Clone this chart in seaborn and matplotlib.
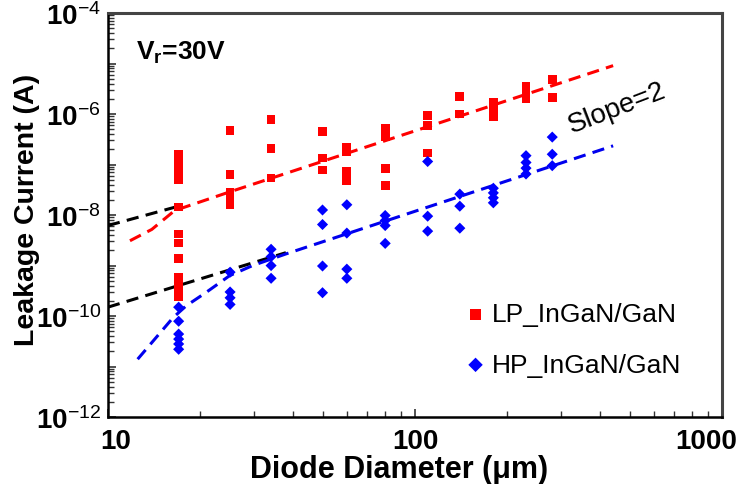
import numpy as np
import pandas as pd
import matplotlib
matplotlib.use('Agg')
import matplotlib.pyplot as plt
import matplotlib.transforms as mtransforms
import seaborn as sns
from matplotlib.ticker import LogLocator, FixedLocator, FuncFormatter, NullFormatter

sns.set_style('ticks')
plt.rcParams.update({
    'font.family': ['Liberation Sans', 'DejaVu Sans'],
    'mathtext.fontset': 'custom',
    'mathtext.rm': 'Liberation Sans',
    'mathtext.bf': 'Liberation Sans:bold',
    'mathtext.it': 'Liberation Sans:italic',
    'text.color': 'black',
    'axes.labelcolor': 'black',
    'xtick.labelcolor': 'black',
    'ytick.labelcolor': 'black',
})

# LP_InGaN/GaN (red squares): diameter (um) -> leakage current (A)
lp_diam = [17] * 13 + [25] * 5 + [34] * 3 + [50] * 3 + [60] * 4 + [80] * 4 + [110] * 3 + [140] * 2 + [180] * 3 + [230] * 3 + [280] * 2
lp_curr = [1.6e-7, 1.2e-7, 8.9e-8, 6.8e-8, 5.1e-8, 1.45e-8, 4.2e-9, 2.8e-9, 1.4e-9, 5.9e-10, 4.3e-10, 3.2e-10, 2.4e-10,
           4.7e-7, 6.3e-8, 2.75e-8, 2.1e-8, 1.6e-8,
           7.9e-7, 2.1e-7, 5.4e-8,
           4.5e-7, 1.35e-7, 7.8e-8,
           2.2e-7, 1.8e-7, 7.4e-8, 4.8e-8,
           5.2e-7, 3.5e-7, 8.5e-8, 3.8e-8,
           9.5e-7, 5.9e-7, 1.7e-7,
           2.2e-6, 1.0e-6,
           1.7e-6, 1.26e-6, 9.1e-7,
           3.5e-6, 2.6e-6, 2.0e-6,
           4.9e-6, 2.1e-6]

# HP_InGaN/GaN (blue diamonds)
hp_diam = [17] * 6 + [25] * 4 + [34] * 4 + [50] * 4 + [60] * 4 + [80] * 4 + [110] * 3 + [140] * 3 + [180] * 4 + [230] * 4 + [280] * 3
hp_curr = [1.5e-10, 7.9e-11, 4.4e-11, 3.5e-11, 2.8e-11, 2.2e-11,
           7.4e-10, 3.0e-10, 2.3e-10, 1.7e-10,
           2.1e-9, 1.5e-9, 1.0e-9, 5.6e-10,
           1.26e-8, 6.5e-9, 9.8e-10, 2.9e-10,
           1.6e-8, 4.4e-9, 8.5e-10, 5.6e-10,
           9.8e-9, 7.8e-9, 6.2e-9, 2.75e-9,
           1.15e-7, 9.5e-9, 4.8e-9,
           2.6e-8, 1.5e-8, 5.5e-9,
           3.4e-8, 2.75e-8, 2.2e-8, 1.75e-8,
           1.5e-7, 1.1e-7, 8.5e-8, 6.5e-8,
           3.5e-7, 1.6e-7, 9.5e-8]

# fitted curves
lp_fit_d = [11.8, 13.9, 16.5, 24.6, 442]
lp_fit_i = [3.1e-9, 5.2e-9, 1.23e-8, 2.8e-8, 9.1e-6]
hp_fit_d = [12.5, 16.3, 18.0, 20.9, 24.9, 29.6, 38.0, 442]
hp_fit_i = [1.4e-11, 9.3e-11, 1.6e-10, 2.95e-10, 6.3e-10, 1.0e-9, 1.7e-9, 2.35e-7]

# slope = 2 guide lines
lp_guide_d = [10, 17]
lp_guide_i = [6.2e-9, 1.5e-8]
hp_guide_d = [10, 38]
hp_guide_i = [1.5e-10, 1.8e-9]

lp = pd.DataFrame({'diam': lp_diam, 'curr': lp_curr})
hp = pd.DataFrame({'diam': hp_diam, 'curr': hp_curr})

fig = plt.figure(figsize=(7.39, 4.85), dpi=100)
ax = fig.add_axes([0.146, 0.138, 0.831, 0.833])
ax.set_xscale('log')
ax.set_yscale('log')

sns.lineplot(x=lp_guide_d, y=lp_guide_i, ax=ax, color='black', lw=2.2, sort=False)
sns.lineplot(x=hp_guide_d, y=hp_guide_i, ax=ax, color='black', lw=2.2, sort=False)
sns.lineplot(x=lp_fit_d, y=lp_fit_i, ax=ax, color='#ff0000', lw=2.2, sort=False)
sns.lineplot(x=hp_fit_d, y=hp_fit_i, ax=ax, color='#0000ee', lw=2.2, sort=False)
for ln in ax.lines:
    ln.set_dashes((4, 2.4))

sns.scatterplot(data=lp, x='diam', y='curr', ax=ax, marker='s', s=40, color='#ff0000',
                edgecolor='none', label='LP_InGaN/GaN', zorder=3)
sns.scatterplot(data=hp, x='diam', y='curr', ax=ax, marker='D', s=32, color='#0000ff',
                edgecolor='none', label='HP_InGaN/GaN', zorder=3)

ax.set_xlim(10, 1000)
ax.set_ylim(1e-12, 1e-4)

ax.xaxis.set_major_locator(FixedLocator([10, 100, 1000]))
ax.xaxis.set_minor_locator(LogLocator(base=10, subs=np.arange(2, 10), numticks=20))
ax.xaxis.set_major_formatter(FuncFormatter(lambda v, p: f'{v:.0f}'))
ax.xaxis.set_minor_formatter(NullFormatter())

ax.yaxis.set_major_locator(LogLocator(base=10, numticks=20))
ax.yaxis.set_minor_locator(LogLocator(base=10, subs=np.arange(2, 10), numticks=20))


def ylab(v, pos):
    e = int(round(np.log10(v)))
    if e % 2:
        return ''
    return r'$\mathbf{10}^{\mathregular{%d}}$' % e


ax.yaxis.set_major_formatter(FuncFormatter(ylab))
ax.yaxis.set_minor_formatter(NullFormatter())

ax.tick_params(which='both', direction='in', top=False, right=False, color='#333333')
ax.tick_params(which='major', length=6, width=1.2)
ax.tick_params(which='minor', length=4, width=1)
ax.tick_params(axis='x', which='major', labelsize=20, pad=8, labelcolor='black')
ax.tick_params(axis='y', which='major', labelsize=20, pad=5, labelcolor='black')

for side in ['left', 'bottom']:
    ax.spines[side].set_linewidth(1.8)
    ax.spines[side].set_color('black')
for side in ['top', 'right']:
    ax.spines[side].set_linewidth(2.2)
    ax.spines[side].set_color('#444444')

ax.set_xlabel('Diode Diameter (\u03bcm)', fontsize=22, fontweight='bold')
ax.set_ylabel('Leakage Current (A)', fontsize=20.5, fontweight='bold')
ax.xaxis.set_label_coords(0.474, -0.092)
ax.yaxis.set_label_coords(-0.11, 0.515)

ax.text(0.045, 0.905, r'$\mathbf{V_r}$' + '=30V', transform=ax.transAxes, fontsize=19,
        fontweight='bold', ha='left', va='center')
ax.text(0.829, 0.767, 'Slope=2', transform=ax.transAxes, fontsize=20, rotation=21,
        ha='center', va='center')

ax.legend(loc='upper left', bbox_to_anchor=(0.56, 0.31), frameon=False, fontsize=19,
          handletextpad=0.1, labelspacing=1.0, markerscale=1.3, handlelength=1.0,
          borderaxespad=0)

# nudge the end x tick labels so they sit like the original
fig.canvas.draw()
shifts = {10: 8, 1000: -16}
for tick in ax.xaxis.get_major_ticks():
    tick.label1.set_fontweight('bold')
    dx = shifts.get(int(round(tick.get_loc())), 0)
    if dx:
        tick.label1.set_transform(tick.label1.get_transform() +
                                  mtransforms.ScaledTranslation(dx / 100, 0, fig.dpi_scale_trans))

fig.savefig('out.png', dpi=100)
